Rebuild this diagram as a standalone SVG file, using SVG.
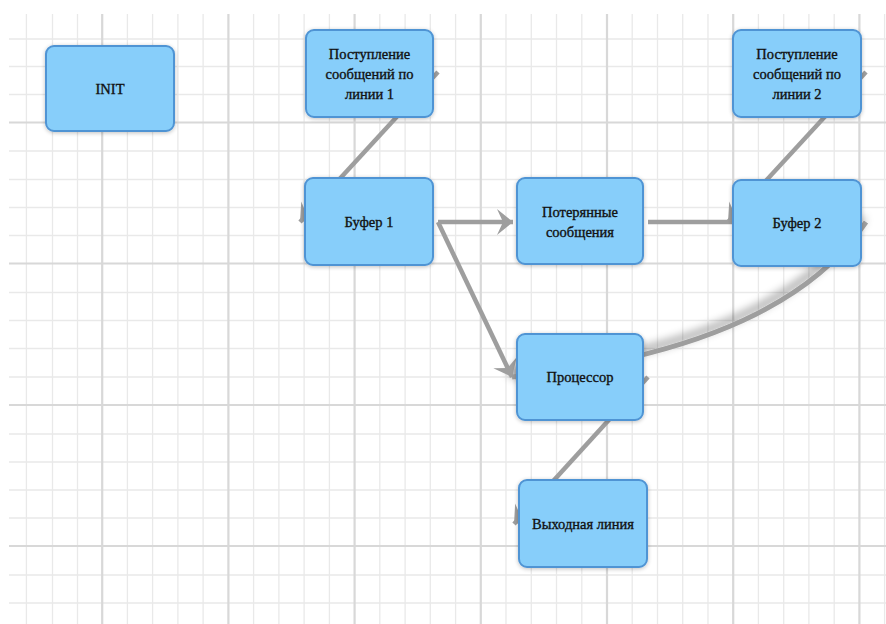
<svg xmlns="http://www.w3.org/2000/svg" width="886" height="624" viewBox="0 0 886 624">
  <style>
    .minor { stroke: #e9e9e9; stroke-width: 1.3; }
    .major { stroke: #d8d8d8; stroke-width: 2.2; }
    .node rect { fill: #87cefa; stroke: #4f94d4; stroke-width: 2; filter: url(#nodeShadow); }
    .node text { fill: #111; stroke: #111; stroke-width: 0.35; text-anchor: middle; }
    .edge { fill: none; stroke: #9e9e9e; stroke-width: 4.5; }
    .curve { fill: none; stroke: #9e9e9e; stroke-width: 5; filter: url(#edgeShadow); }
  </style>
  <defs>
    <marker id="arrow" markerUnits="userSpaceOnUse" viewBox="-17 -14 18 28" markerWidth="18" markerHeight="28" refX="0" refY="0" orient="auto" overflow="visible">
      <path d="M0,0 L-16,-13 L-10,0 L-16,13 Z" fill="#9e9e9e"/>
    </marker>
    <filter id="nodeShadow" x="-20%" y="-20%" width="140%" height="140%">
      <feGaussianBlur in="SourceAlpha" stdDeviation="2"/>
      <feOffset dx="0" dy="1" result="b"/>
      <feComponentTransfer><feFuncA type="linear" slope="0.25"/></feComponentTransfer>
      <feMerge><feMergeNode/><feMergeNode in="SourceGraphic"/></feMerge>
    </filter>
    <filter id="edgeShadow" x="-20%" y="-30%" width="140%" height="160%">
      <feGaussianBlur in="SourceAlpha" stdDeviation="5"/>
      <feOffset dx="-3" dy="-4" result="b"/>
      <feComponentTransfer><feFuncA type="linear" slope="0.5"/></feComponentTransfer>
      <feMerge><feMergeNode/><feMergeNode in="SourceGraphic"/></feMerge>
    </filter>
  </defs>

  <rect width="886" height="624" fill="#ffffff"/>

  <!-- background grid -->
  <g id="grid">
    <g class="minor">
      <line x1="26.4" y1="14" x2="26.4" y2="624"/>
      <line x1="52.5" y1="14" x2="52.5" y2="624"/>
      <line x1="77.5" y1="14" x2="77.5" y2="624"/>
      <line x1="127.4" y1="14" x2="127.4" y2="624"/>
      <line x1="152.6" y1="14" x2="152.6" y2="624"/>
      <line x1="177.9" y1="14" x2="177.9" y2="624"/>
      <line x1="203.1" y1="14" x2="203.1" y2="624"/>
      <line x1="253.6" y1="14" x2="253.6" y2="624"/>
      <line x1="278.9" y1="14" x2="278.9" y2="624"/>
      <line x1="304.1" y1="14" x2="304.1" y2="624"/>
      <line x1="329.4" y1="14" x2="329.4" y2="624"/>
      <line x1="379.8" y1="14" x2="379.8" y2="624"/>
      <line x1="405.1" y1="14" x2="405.1" y2="624"/>
      <line x1="430.3" y1="14" x2="430.3" y2="624"/>
      <line x1="455.6" y1="14" x2="455.6" y2="624"/>
      <line x1="506" y1="14" x2="506" y2="624"/>
      <line x1="531.3" y1="14" x2="531.3" y2="624"/>
      <line x1="556.5" y1="14" x2="556.5" y2="624"/>
      <line x1="581.8" y1="14" x2="581.8" y2="624"/>
      <line x1="632.2" y1="14" x2="632.2" y2="624"/>
      <line x1="657.5" y1="14" x2="657.5" y2="624"/>
      <line x1="682.7" y1="14" x2="682.7" y2="624"/>
      <line x1="708" y1="14" x2="708" y2="624"/>
      <line x1="758.4" y1="14" x2="758.4" y2="624"/>
      <line x1="783.7" y1="14" x2="783.7" y2="624"/>
      <line x1="808.9" y1="14" x2="808.9" y2="624"/>
      <line x1="834.2" y1="14" x2="834.2" y2="624"/>
      <line x1="884.6" y1="14" x2="884.6" y2="624"/>

      <line x1="9" y1="39" x2="886" y2="39"/>
      <line x1="9" y1="66.5" x2="886" y2="66.5"/>
      <line x1="9" y1="94.5" x2="886" y2="94.5"/>
      <line x1="9" y1="151" x2="886" y2="151"/>
      <line x1="9" y1="179.5" x2="886" y2="179.5"/>
      <line x1="9" y1="207.5" x2="886" y2="207.5"/>
      <line x1="9" y1="235.5" x2="886" y2="235.5"/>
      <line x1="9" y1="292.5" x2="886" y2="292.5"/>
      <line x1="9" y1="320.5" x2="886" y2="320.5"/>
      <line x1="9" y1="348.5" x2="886" y2="348.5"/>
      <line x1="9" y1="377" x2="886" y2="377"/>
      <line x1="9" y1="434" x2="886" y2="434"/>
      <line x1="9" y1="462" x2="886" y2="462"/>
      <line x1="9" y1="490" x2="886" y2="490"/>
      <line x1="9" y1="518" x2="886" y2="518"/>
      <line x1="9" y1="575" x2="886" y2="575"/>
      <line x1="9" y1="603" x2="886" y2="603"/>
    </g>
    <g class="major">
      <line x1="102.2" y1="14" x2="102.2" y2="624"/>
      <line x1="228.4" y1="14" x2="228.4" y2="624"/>
      <line x1="354.6" y1="14" x2="354.6" y2="624"/>
      <line x1="480.8" y1="14" x2="480.8" y2="624"/>
      <line x1="607" y1="14" x2="607" y2="624"/>
      <line x1="733.2" y1="14" x2="733.2" y2="624"/>
      <line x1="859.4" y1="14" x2="859.4" y2="624"/>

      <line x1="9" y1="122.5" x2="886" y2="122.5"/>
      <line x1="9" y1="263.5" x2="886" y2="263.5"/>
      <line x1="9" y1="405" x2="886" y2="405"/>
      <line x1="9" y1="546" x2="886" y2="546"/>
    </g>
  </g>

  <!-- connectors (drawn anchor to anchor, under the nodes) -->
  <g id="connectors">
    <path class="curve" d="M866,222 Q782,348 512,377" marker-end="url(#arrow)"/>
    <line class="edge" x1="438" y1="72" x2="300" y2="222" marker-end="url(#arrow)"/>
    <line class="edge" x1="438" y1="222" x2="513" y2="222" marker-end="url(#arrow)"/>
    <line class="edge" x1="438" y1="222" x2="512" y2="377" marker-end="url(#arrow)"/>
    <line class="edge" x1="648" y1="222" x2="780" y2="222"/>
    <line class="edge" x1="866" y1="72" x2="728" y2="222" marker-end="url(#arrow)"/>
    <line class="edge" x1="648" y1="377" x2="514" y2="524" marker-end="url(#arrow)"/>
  </g>

  <!-- nodes -->
  <g id="nodes" font-family="'Liberation Serif', 'Times New Roman', 'DejaVu Serif', serif" font-size="14.5">
    <g id="init" class="node">
      <rect x="46" y="46" width="128" height="85" rx="8"/>
      <text x="110" y="93.5">INIT</text>
    </g>
    <g id="incoming1" class="node">
      <rect x="306" y="30" width="127" height="87" rx="8"/>
      <text x="369.5" y="58.5">Поступление</text>
      <text x="369.5" y="78.5">сообщений по</text>
      <text x="369.5" y="98.5">линии 1</text>
    </g>
    <g id="buffer1" class="node">
      <rect x="305" y="178" width="128" height="87" rx="8"/>
      <text x="369" y="226.5">Буфер 1</text>
    </g>
    <g id="lost" class="node">
      <rect x="517" y="178" width="126" height="86" rx="8"/>
      <text x="580" y="216.5">Потерянные</text>
      <text x="580" y="236.5">сообщения</text>
    </g>
    <g id="processor" class="node">
      <rect x="517" y="334" width="126" height="86" rx="8"/>
      <text x="580" y="382">Процессор</text>
    </g>
    <g id="incoming2" class="node">
      <rect x="733" y="30" width="128" height="87" rx="8"/>
      <text x="797" y="58.5">Поступление</text>
      <text x="797" y="78.5">сообщений по</text>
      <text x="797" y="98.5">линии 2</text>
    </g>
    <g id="buffer2" class="node">
      <rect x="733" y="180" width="128" height="86" rx="8"/>
      <text x="797" y="228">Буфер 2</text>
    </g>
    <g id="output" class="node">
      <rect x="519" y="480" width="128" height="87" rx="8"/>
      <text x="583" y="528.5">Выходная линия</text>
    </g>
  </g>
</svg>
